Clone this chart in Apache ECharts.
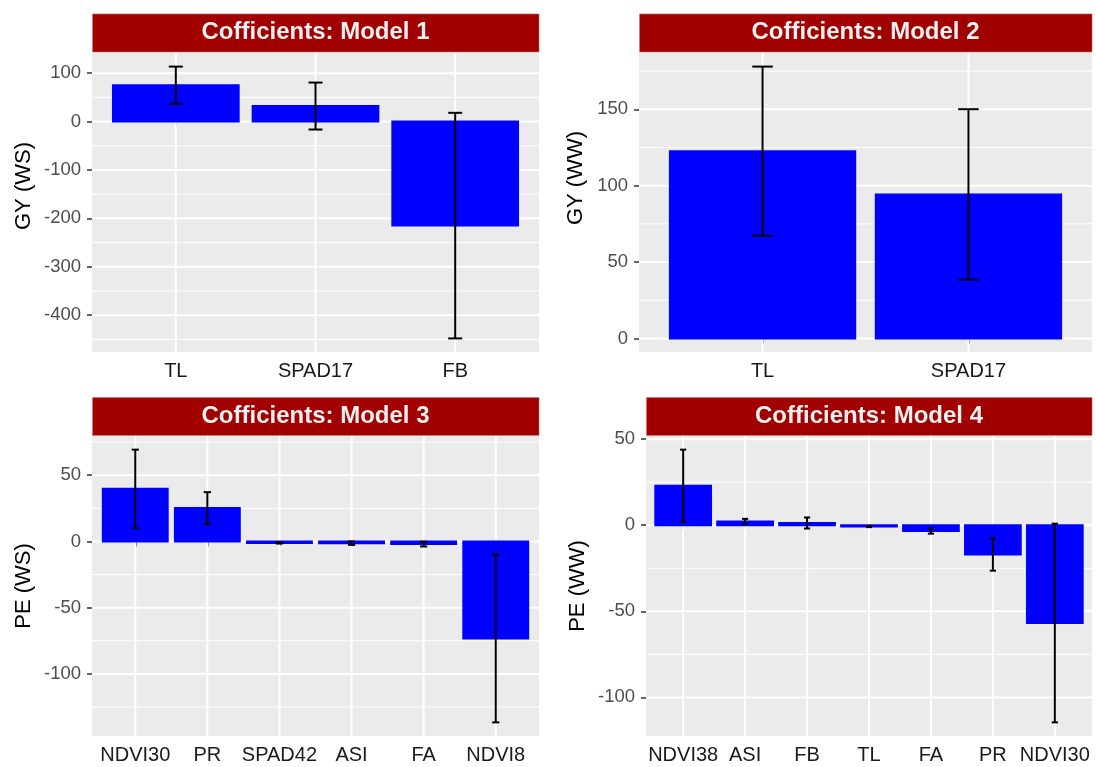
<!DOCTYPE html>
<html>
<head>
<meta charset="utf-8">
<script src="https://cdn.jsdelivr.net/npm/echarts@6/dist/echarts.min.js"></script>
<style>html,body{margin:0;padding:0;background:#fff}#c{width:1096px;height:767px}</style>
</head>
<body>
<div id="c"></div>
<script>
// ---------- data ----------
const titles = ['Cofficients: Model 1', 'Cofficients: Model 2', 'Cofficients: Model 3', 'Cofficients: Model 4'];
const yNames = ['GY (WS)', 'GY (WW)', 'PE (WS)', 'PE (WW)'];

const cat1 = ['TL', 'SPAD17', 'FB'];
const val1 = [75, 32, -215];
const lo1  = [36.5, -16.5, -448];
const hi1  = [113.5, 80.5, 18];

const cat2 = ['TL', 'SPAD17'];
const val2 = [122.6, 94.3];
const lo2  = [67.2, 38.5];
const hi2  = [178, 150.1];

const cat3 = ['NDVI30', 'PR', 'SPAD42', 'ASI', 'FA', 'NDVI8'];
const val3 = [39.7, 25.2, -1.2, -1.3, -2.0, -73.2];
const lo3  = [10.1, 13.2, -1.6, -2.6, -3.8, -136.6];
const hi3  = [69.3, 37.2, -0.8, 0, -0.2, -9.8];

const cat4 = ['NDVI38', 'ASI', 'FB', 'TL', 'FA', 'PR', 'NDVI30'];
const val4 = [22.9, 2.2, 1.3, -0.8, -3.4, -17, -56.8];
const lo4  = [1.9, 0.7, -1.9, -1.1, -4.9, -26.4, -114.5];
const hi4  = [43.9, 3.7, 4.5, -0.5, -1.9, -7.6, 0.9];

const yTicks1 = [-400, -300, -200, -100, 0, 100];
const yMinor1 = [-450, -350, -250, -150, -50, 50];
const yTicks2 = [0, 50, 100, 150];
const yMinor2 = [25, 75, 125, 175];
const yTicks3 = [-100, -50, 0, 50];
const yMinor3 = [-125, -75, -25, 25, 75];
const yTicks4 = [-100, -50, 0, 50];
const yMinor4 = [-75, -25, 25];

const panels = [
  {title: titles[0], yName: yNames[0], cats: cat1, vals: val1, lo: lo1, hi: hi1, ticks: yTicks1, minor: yMinor1},
  {title: titles[1], yName: yNames[1], cats: cat2, vals: val2, lo: lo2, hi: hi2, ticks: yTicks2, minor: yMinor2},
  {title: titles[2], yName: yNames[2], cats: cat3, vals: val3, lo: lo3, hi: hi3, ticks: yTicks3, minor: yMinor3},
  {title: titles[3], yName: yNames[3], cats: cat4, vals: val4, lo: lo4, hi: hi4, ticks: yTicks4, minor: yMinor4}
];

// ---------- layout (pixels) ----------
const layout = [
  {left: 92,  top: 53,  width: 447, height: 299, stripTop: 13.5,  nameGap: 57, namePad: [0, 0, 0, 33]},
  {left: 639, top: 53,  width: 453, height: 299, stripTop: 13.5,  nameGap: 52, namePad: [0, 0, 0, 49]},
  {left: 92,  top: 436, width: 447, height: 300, stripTop: 397,   nameGap: 57, namePad: [0, 0, 0, 0]},
  {left: 646, top: 436, width: 446, height: 300, stripTop: 397,   nameGap: 57, namePad: [0, 0, 0, 0]}
];
const stripH = 38.5;
const FONT = 'Liberation Sans';

const grids = [], xAxes = [], yAxes = [], series = [], graphics = [];

panels.forEach((p, k) => {
  const L = layout[k];
  const n = p.cats.length;
  // ggplot-like 5% expansion of the data range (including zero)
  const dmin = Math.min(0, ...p.lo, ...p.vals);
  const dmax = Math.max(0, ...p.hi, ...p.vals);
  const pad = (dmax - dmin) * 0.05;
  const xVals = p.cats.map((c, i) => i + 1);

  grids.push({left: L.left, top: L.top, width: L.width, height: L.height,
    show: true, backgroundColor: '#ebebeb', borderWidth: 0});

  xAxes.push({
    type: 'value', gridIndex: k, min: 0.4, max: n + 0.6,
    axisLine: {show: false},
    splitLine: {show: false},
    axisTick: {show: true, length: 5, customValues: xVals, lineStyle: {color: '#333', width: 1.5}},
    axisLabel: {show: true, customValues: xVals, margin: 9, fontSize: 20, color: '#1a1a1a', fontFamily: FONT,
      formatter: v => p.cats[Math.round(v) - 1] || ''}
  });

  yAxes.push({
    type: 'value', gridIndex: k, min: dmin - pad, max: dmax + pad,
    name: p.yName, nameLocation: 'middle', nameGap: L.nameGap,
    nameTextStyle: {fontSize: 22, color: '#000', fontFamily: FONT, padding: L.namePad},
    axisLine: {show: false},
    splitLine: {show: false},
    axisTick: {show: true, length: 5, customValues: p.ticks, lineStyle: {color: '#333', width: 1.5}},
    axisLabel: {show: true, customValues: p.ticks, margin: 11, fontSize: 18.5, color: '#4d4d4d', fontFamily: FONT}
  });

  // grid lines (major / minor horizontal, vertical at categories)
  const gridData = []
    .concat(p.minor.map(v => [1, v, 1]))
    .concat(p.ticks.map(v => [1, v, 0]))
    .concat(xVals.map(x => [x, 0, 2]));
  series.push({
    type: 'custom', xAxisIndex: k, yAxisIndex: k, z: 1, silent: true,
    data: gridData,
    renderItem: (params, api) => {
      const cs = params.coordSys;
      const kind = api.value(2);
      if (kind === 2) {
        const x = api.coord([api.value(0), 0])[0];
        return {type: 'line', shape: {x1: x, y1: cs.y, x2: x, y2: cs.y + cs.height},
          style: {stroke: '#ffffff', lineWidth: 2}};
      }
      const y = api.coord([1, api.value(1)])[1];
      if (y < cs.y || y > cs.y + cs.height) return null;
      return {type: 'line', shape: {x1: cs.x, y1: y, x2: cs.x + cs.width, y2: y},
        style: {stroke: '#ffffff', lineWidth: kind === 0 ? 2 : 1}};
    }
  });

  // bars
  series.push({
    type: 'custom', xAxisIndex: k, yAxisIndex: k, z: 2, silent: true,
    data: p.vals.map((v, i) => [i + 1, v]),
    renderItem: (params, api) => {
      const x = api.value(0);
      const b = api.coord([x, 0]);
      const t = api.coord([x, api.value(1)]);
      const w = api.size([0.9, 0])[0];
      return {type: 'rect',
        shape: {x: b[0] - w / 2, y: Math.min(b[1], t[1]), width: w, height: Math.abs(t[1] - b[1])},
        style: {fill: '#0000ff', stroke: '#0000ff', lineWidth: 2}};
    }
  });

  // error bars
  series.push({
    type: 'custom', xAxisIndex: k, yAxisIndex: k, z: 3, silent: true,
    data: p.lo.map((l, i) => [i + 1, l, p.hi[i]]),
    renderItem: (params, api) => {
      const x = api.value(0);
      const a = api.coord([x, api.value(1)]);
      const c = api.coord([x, api.value(2)]);
      const hw = api.size([0.1, 0])[0] / 2;
      const st = {stroke: '#000', lineWidth: 2};
      return {type: 'group', children: [
        {type: 'line', shape: {x1: a[0], y1: a[1], x2: c[0], y2: c[1]}, style: st},
        {type: 'line', shape: {x1: a[0] - hw, y1: a[1], x2: a[0] + hw, y2: a[1]}, style: st},
        {type: 'line', shape: {x1: c[0] - hw, y1: c[1], x2: c[0] + hw, y2: c[1]}, style: st}
      ]};
    }
  });

  // facet strip
  graphics.push({type: 'rect', left: L.left, top: L.stripTop, z: 10,
    shape: {width: L.width, height: stripH},
    style: {fill: '#a00000', stroke: '#e6e6e6', lineWidth: 0.5}});
  graphics.push({type: 'text', x: L.left + L.width / 2, y: L.stripTop + stripH / 2, z: 11,
    style: {text: p.title, align: 'center', verticalAlign: 'middle', fill: '#f0f0f0',
      fontSize: 24, fontWeight: 'bold', fontFamily: FONT}});
});

const chart = echarts.init(document.getElementById('c'), null, {renderer: 'canvas'});
chart.setOption({
  animation: false,
  backgroundColor: '#ffffff',
  textStyle: {fontFamily: FONT},
  grid: grids,
  xAxis: xAxes,
  yAxis: yAxes,
  series: series,
  graphic: {elements: graphics}
});
</script>
</body>
</html>
